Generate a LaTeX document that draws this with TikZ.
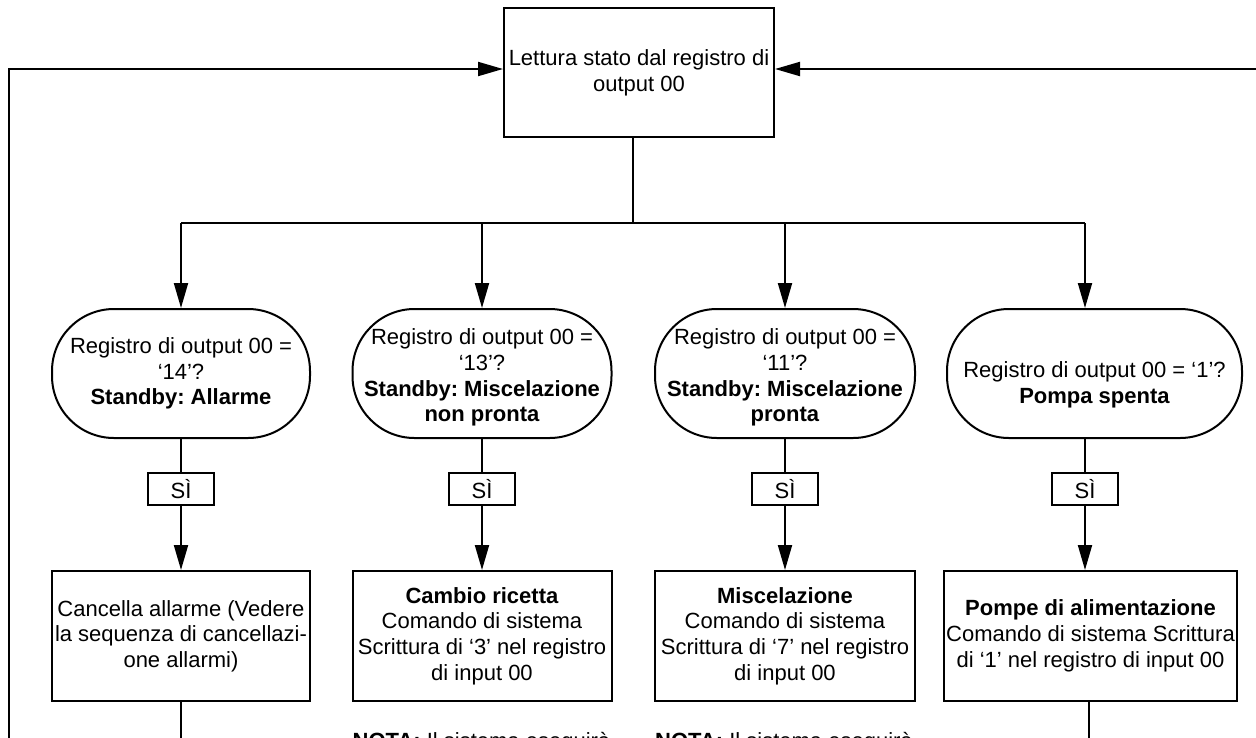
\documentclass[tikz,border=0pt]{standalone}
\usepackage{fontspec}
\setmainfont{Liberation Sans}
\usetikzlibrary{arrows.meta, positioning}

\tikzset{
    base/.style={draw, line width=2pt, align=center, inner sep=2pt,
        font=\fontsize{22}{25.7}\selectfont\frenchspacing},
    readbox/.style={base, minimum width=270pt, minimum height=129pt},
    query/.style={base, rounded corners=62pt, minimum height=129pt},
    yesbox/.style={base, minimum width=66pt, minimum height=32pt, inner sep=0pt},
    cmdbox/.style={base, minimum height=130pt},
    link/.style={line width=2pt},
    flow/.style={link, -{Triangle[length=25pt, width=14pt]}},
    nota/.style={anchor=base west, inner sep=0pt, font=\fontsize{22}{25.7}\selectfont\frenchspacing}
}

\begin{document}
\begin{tikzpicture}[x=1pt, y=-1pt]
    \useasboundingbox (0,0) rectangle (1256,737);
    \clip (0,0) rectangle (1256,737);

    % Lettura stato
    \node[readbox] (lettura) at (639,72.5) {Lettura stato dal registro di\\ output 00};

    % Condizioni
    \node[query, minimum width=258pt] (q1) at (181,373.5)
        {Registro di output 00 =\\ ‘14’?\\ \textbf{Standby: Allarme}};
    \node[query, minimum width=259pt] (q2) at (482,373.5)
        {\rule{0pt}{24pt}Registro di output 00 =\\ ‘13’?\\ \textbf{Standby: Miscelazione}\\ \textbf{non pronta}};
    \node[query, minimum width=260pt] (q3) at (785,373.5)
        {\rule{0pt}{24pt}Registro di output 00 =\\ ‘11’?\\ \textbf{Standby: Miscelazione}\\ \textbf{pronta}};
    \node[query, minimum width=295pt] (q4) at (1094.5,373.5)
        {\rule{0pt}{38pt}Registro di output 00 = ‘1’?\\ \textbf{Pompa spenta}};

    % Risposte
    \node[yesbox, below=33pt of q1] (si1) {SÌ};
    \node[yesbox, below=33pt of q2] (si2) {SÌ};
    \node[yesbox, below=33pt of q3] (si3) {SÌ};
    \node[yesbox, below=33pt of q4, xshift=-9.5pt] (si4) {SÌ};

    % Comandi
    \node[cmdbox, minimum width=258pt, below=64pt of si1] (box1)
        {Cancella allarme (Vedere\\ la sequenza di cancellazi-\\ one allarmi)};
    \node[cmdbox, minimum width=259pt, below=64pt of si2] (box2)
        {\textbf{Cambio ricetta}\\ Comando di sistema\\ Scrittura di ‘3’ nel registro\\ di input 00};
    \node[cmdbox, minimum width=260pt, below=64pt of si3] (box3)
        {\textbf{Miscelazione}\\ Comando di sistema\\ Scrittura di ‘7’ nel registro\\ di input 00};
    \node[cmdbox, minimum width=291pt, below=64pt of si4, xshift=5.5pt] (box4)
        {\textbf{Pompe di alimentazione}\\ Comando di sistema Scrittura\\ di ‘1’ nel registro di input 00};

    % Note
    \node[nota] (nota2) at ([xshift=1pt, yshift=-46pt]box2.south west) {\textbf{NOTA:} Il sistema eseguirà};
    \node[nota] (nota3) at ([xshift=1pt, yshift=-46pt]box3.south west) {\textbf{NOTA:} Il sistema eseguirà};

    % Diramazione
    \coordinate (split) at (633,223);
    \coordinate (b1) at (181,223);
    \coordinate (b2) at (482,223);
    \coordinate (b3) at (785,223);
    \coordinate (b4) at (1085,223);
    \draw[link] (lettura.south -| split) -- (split);
    \draw[link] (b1) -- (b4);

    \foreach \i in {1,...,4} {
        \draw[flow] (b\i) -- (b\i |- q\i.north);
        \draw[link] (si\i) -- (si\i |- q\i.south);
        \draw[flow] (si\i) -- (si\i |- box\i.north);
    }

    % Ritorni
    \coordinate (loopL) at (9,760);
    \coordinate (loopR) at (1270,69);
    \draw[flow] (loopL) |- ([yshift=3.5pt]lettura.west);
    \draw[flow] (loopR) -- ([yshift=3.5pt]lettura.east);
    \draw[link] (box1.south) -- ++(0,60);
    \draw[link] ([xshift=-1.5pt]box4.south) -- ++(0,60);
\end{tikzpicture}
\end{document}
